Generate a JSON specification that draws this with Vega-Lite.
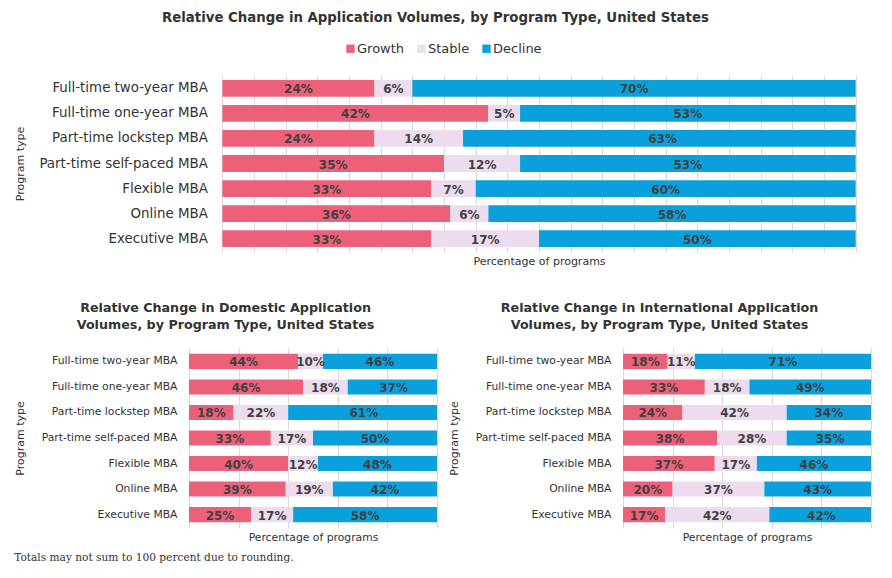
{
  "$schema": "https://vega.github.io/schema/vega-lite/v6.json",
  "background": "white",
  "padding": {"left": 14, "top": 10, "right": 5, "bottom": 5},
  "spacing": 36,
  "title": {"text": "Totals may not sum to 100 percent due to rounding.", "orient": "bottom", "anchor": "start", "frame": "bounds", "font": "DejaVu Serif", "fontSize": 10.6, "fontWeight": "normal", "color": "#333333", "offset": 11},
  "config": {
    "view": {"stroke": null},
    "font": "DejaVu Sans",
    "axisX": {"grid": true, "gridColor": "#d9d9d9", "labels": false, "ticks": false, "domain": false, "values": [0, 0.5, 1], "titleFontWeight": "normal", "titleColor": "#333333", "titlePadding": 3},
    "axisY": {"domain": false, "ticks": false, "labelColor": "#333333", "titleFontWeight": "normal", "titleColor": "#333333"},
    "title": {"color": "#333333", "fontWeight": "bold", "anchor": "middle", "frame": "bounds"}
  },
  "resolve": {"scale": {"color": "independent"}, "legend": {"color": "independent"}},
  "datasets": {
    "all": [
      {"program": "Full-time two-year MBA", "category": "Growth", "share": 0.24},
      {"program": "Full-time two-year MBA", "category": "Stable", "share": 0.06},
      {"program": "Full-time two-year MBA", "category": "Decline", "share": 0.70},
      {"program": "Full-time one-year MBA", "category": "Growth", "share": 0.42},
      {"program": "Full-time one-year MBA", "category": "Stable", "share": 0.05},
      {"program": "Full-time one-year MBA", "category": "Decline", "share": 0.53},
      {"program": "Part-time lockstep MBA", "category": "Growth", "share": 0.24},
      {"program": "Part-time lockstep MBA", "category": "Stable", "share": 0.14},
      {"program": "Part-time lockstep MBA", "category": "Decline", "share": 0.63},
      {"program": "Part-time self-paced MBA", "category": "Growth", "share": 0.35},
      {"program": "Part-time self-paced MBA", "category": "Stable", "share": 0.12},
      {"program": "Part-time self-paced MBA", "category": "Decline", "share": 0.53},
      {"program": "Flexible MBA", "category": "Growth", "share": 0.33},
      {"program": "Flexible MBA", "category": "Stable", "share": 0.07},
      {"program": "Flexible MBA", "category": "Decline", "share": 0.60},
      {"program": "Online MBA", "category": "Growth", "share": 0.36},
      {"program": "Online MBA", "category": "Stable", "share": 0.06},
      {"program": "Online MBA", "category": "Decline", "share": 0.58},
      {"program": "Executive MBA", "category": "Growth", "share": 0.33},
      {"program": "Executive MBA", "category": "Stable", "share": 0.17},
      {"program": "Executive MBA", "category": "Decline", "share": 0.50}
    ],
    "domestic": [
      {"program": "Full-time two-year MBA", "category": "Growth", "share": 0.44},
      {"program": "Full-time two-year MBA", "category": "Stable", "share": 0.10},
      {"program": "Full-time two-year MBA", "category": "Decline", "share": 0.46},
      {"program": "Full-time one-year MBA", "category": "Growth", "share": 0.46},
      {"program": "Full-time one-year MBA", "category": "Stable", "share": 0.18},
      {"program": "Full-time one-year MBA", "category": "Decline", "share": 0.37},
      {"program": "Part-time lockstep MBA", "category": "Growth", "share": 0.18},
      {"program": "Part-time lockstep MBA", "category": "Stable", "share": 0.22},
      {"program": "Part-time lockstep MBA", "category": "Decline", "share": 0.61},
      {"program": "Part-time self-paced MBA", "category": "Growth", "share": 0.33},
      {"program": "Part-time self-paced MBA", "category": "Stable", "share": 0.17},
      {"program": "Part-time self-paced MBA", "category": "Decline", "share": 0.50},
      {"program": "Flexible MBA", "category": "Growth", "share": 0.40},
      {"program": "Flexible MBA", "category": "Stable", "share": 0.12},
      {"program": "Flexible MBA", "category": "Decline", "share": 0.48},
      {"program": "Online MBA", "category": "Growth", "share": 0.39},
      {"program": "Online MBA", "category": "Stable", "share": 0.19},
      {"program": "Online MBA", "category": "Decline", "share": 0.42},
      {"program": "Executive MBA", "category": "Growth", "share": 0.25},
      {"program": "Executive MBA", "category": "Stable", "share": 0.17},
      {"program": "Executive MBA", "category": "Decline", "share": 0.58}
    ],
    "international": [
      {"program": "Full-time two-year MBA", "category": "Growth", "share": 0.18},
      {"program": "Full-time two-year MBA", "category": "Stable", "share": 0.11},
      {"program": "Full-time two-year MBA", "category": "Decline", "share": 0.71},
      {"program": "Full-time one-year MBA", "category": "Growth", "share": 0.33},
      {"program": "Full-time one-year MBA", "category": "Stable", "share": 0.18},
      {"program": "Full-time one-year MBA", "category": "Decline", "share": 0.49},
      {"program": "Part-time lockstep MBA", "category": "Growth", "share": 0.24},
      {"program": "Part-time lockstep MBA", "category": "Stable", "share": 0.42},
      {"program": "Part-time lockstep MBA", "category": "Decline", "share": 0.34},
      {"program": "Part-time self-paced MBA", "category": "Growth", "share": 0.38},
      {"program": "Part-time self-paced MBA", "category": "Stable", "share": 0.28},
      {"program": "Part-time self-paced MBA", "category": "Decline", "share": 0.35},
      {"program": "Flexible MBA", "category": "Growth", "share": 0.37},
      {"program": "Flexible MBA", "category": "Stable", "share": 0.17},
      {"program": "Flexible MBA", "category": "Decline", "share": 0.46},
      {"program": "Online MBA", "category": "Growth", "share": 0.20},
      {"program": "Online MBA", "category": "Stable", "share": 0.37},
      {"program": "Online MBA", "category": "Decline", "share": 0.43},
      {"program": "Executive MBA", "category": "Growth", "share": 0.17},
      {"program": "Executive MBA", "category": "Stable", "share": 0.42},
      {"program": "Executive MBA", "category": "Decline", "share": 0.42}
    ]
  },
  "vconcat": [
    {
      "title": {"text": "Relative Change in Application Volumes, by Program Type, United States", "fontSize": 13.3, "offset": 18},
      "width": 667,
      "height": 177,
      "data": {"name": "all"},
      "encoding": {
        "y": {"field": "program", "type": "nominal", "sort": ["Full-time two-year MBA", "Full-time one-year MBA", "Part-time lockstep MBA", "Part-time self-paced MBA", "Flexible MBA", "Online MBA", "Executive MBA"], "scale": {"paddingInner": 0.33, "paddingOuter": 0.2}, "title": "Program type", "axis": {"labelFontSize": 13.4, "labelPadding": 15, "offset": -33.4, "titleFontSize": 11, "titlePadding": 13}}
      },
      "layer": [
        {
          "mark": {"type": "bar"},
          "encoding": {
            "x": {"field": "share", "type": "quantitative", "stack": "zero", "scale": {"domain": [0, 1], "range": [33.4, 666.7], "clamp": true}, "title": "Percentage of programs", "axis": {"titleFontSize": 11, "titleX": 350}},
            "color": {"field": "category", "type": "nominal", "scale": {"domain": ["Growth", "Stable", "Decline"], "range": ["#ed6079", "#ecdcee", "#0aa0dc"]},
              "legend": {"title": null, "orient": "none", "direction": "horizontal", "legendX": 155, "legendY": -33, "symbolType": "square", "symbolSize": 70, "symbolStrokeWidth": 0, "labelFontSize": 13, "labelColor": "#333333", "columnPadding": 10, "labelOffset": 0}},
            "order": {"field": "program", "type": "nominal"}
          }
        },
        {
          "mark": {"type": "text", "fontSize": 12, "fontWeight": "bold", "color": "#404040", "align": "center", "baseline": "middle", "dy": 1},
          "encoding": {
            "x": {"field": "share", "type": "quantitative", "stack": "zero", "bandPosition": 0.5},
            "detail": {"field": "category"},
            "order": {"field": "program", "type": "nominal"},
            "text": {"field": "share", "type": "quantitative", "format": ".0%"}
          }
        }
      ]
    },
    {
      "hconcat": [
        {
          "title": {"text": ["Relative Change in Domestic Application", "Volumes, by Program Type, United States"], "fontSize": 12.7, "offset": 16, "lineHeight": 17},
          "width": 248,
          "height": 180,
          "data": {"name": "domestic"},
          "encoding": {
            "y": {"field": "program", "type": "nominal", "sort": ["Full-time two-year MBA", "Full-time one-year MBA", "Part-time lockstep MBA", "Part-time self-paced MBA", "Flexible MBA", "Online MBA", "Executive MBA"], "scale": {"paddingInner": 0.41, "paddingOuter": 0.23}, "title": "Program type", "axis": {"labelFontSize": 10.8, "labelPadding": 12, "titleFontSize": 11, "titlePadding": 16}}
          },
          "layer": [
            {
              "mark": {"type": "bar"},
              "encoding": {
                "x": {"field": "share", "type": "quantitative", "stack": "zero", "scale": {"domain": [0, 1], "clamp": true}, "title": "Percentage of programs", "axis": {"titleFontSize": 10.8, "titlePadding": 3}},
                "color": {"field": "category", "type": "nominal", "scale": {"domain": ["Growth", "Stable", "Decline"], "range": ["#ed6079", "#ecdcee", "#0aa0dc"]}, "legend": null},
                "order": {"field": "program", "type": "nominal"}
              }
            },
            {
              "mark": {"type": "text", "fontSize": 12, "fontWeight": "bold", "color": "#404040", "align": "center", "baseline": "middle", "dy": 1},
              "encoding": {
                "x": {"field": "share", "type": "quantitative", "stack": "zero", "bandPosition": 0.5},
                "detail": {"field": "category"},
                "order": {"field": "program", "type": "nominal"},
                "text": {"field": "share", "type": "quantitative", "format": ".0%"}
              }
            }
          ]
        },
        {
          "title": {"text": ["Relative Change in International Application", "Volumes, by Program Type, United States"], "fontSize": 12.7, "offset": 16, "lineHeight": 17},
          "width": 248,
          "height": 180,
          "data": {"name": "international"},
          "encoding": {
            "y": {"field": "program", "type": "nominal", "sort": ["Full-time two-year MBA", "Full-time one-year MBA", "Part-time lockstep MBA", "Part-time self-paced MBA", "Flexible MBA", "Online MBA", "Executive MBA"], "scale": {"paddingInner": 0.41, "paddingOuter": 0.23}, "title": "Program type", "axis": {"labelFontSize": 10.8, "labelPadding": 12, "titleFontSize": 11, "titlePadding": 16}}
          },
          "layer": [
            {
              "mark": {"type": "bar"},
              "encoding": {
                "x": {"field": "share", "type": "quantitative", "stack": "zero", "scale": {"domain": [0, 1], "clamp": true}, "title": "Percentage of programs", "axis": {"titleFontSize": 10.8, "titlePadding": 3}},
                "color": {"field": "category", "type": "nominal", "scale": {"domain": ["Growth", "Stable", "Decline"], "range": ["#ed6079", "#ecdcee", "#0aa0dc"]}, "legend": null},
                "order": {"field": "program", "type": "nominal"}
              }
            },
            {
              "mark": {"type": "text", "fontSize": 12, "fontWeight": "bold", "color": "#404040", "align": "center", "baseline": "middle", "dy": 1},
              "encoding": {
                "x": {"field": "share", "type": "quantitative", "stack": "zero", "bandPosition": 0.5},
                "detail": {"field": "category"},
                "order": {"field": "program", "type": "nominal"},
                "text": {"field": "share", "type": "quantitative", "format": ".0%"}
              }
            }
          ]
        }
      ],
      "spacing": 11
    }
  ]
}
